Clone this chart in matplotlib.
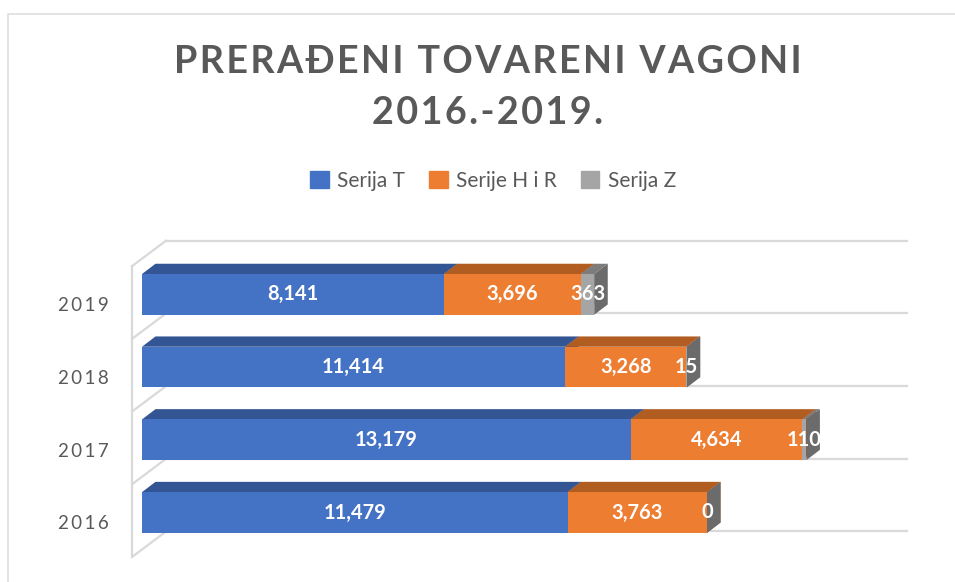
import matplotlib
matplotlib.use('Agg')
import matplotlib.pyplot as plt
import matplotlib.patches as patches
from matplotlib.lines import Line2D
import numpy as np

plt.rcParams['font.family'] = ['Lato', 'DejaVu Sans']

years = ['2016', '2017', '2018', '2019']
serija_t = [11479, 13179, 11414, 8141]
serije_hr = [3763, 4634, 3268, 3696]
serija_z = [0, 110, 15, 363]
series_names = ['Serija T', 'Serije H i R', 'Serija Z']
title_lines = ['PRERAĐENI TOVARENI VAGONI', '2016.-2019.']

front_colors = ['#4472C4', '#ED7D31', '#A5A5A5']
top_colors = ['#335593', '#B15D22', '#7C7C7C']
side_colors = ['#2F5597', '#A9561E', '#6B6B6B']
grid_color = '#D9D9D9'
text_color = '#595959'

W, H = 955, 582
px_per_unit = 0.03707
px_per_cat = 72.7
bar_h = 0.56
depth_x = 13.5 / px_per_unit
depth_y = 10.3 / px_per_cat
wall_x = 34 / px_per_unit
wall_y = 25.5 / px_per_cat
wall_left = -10 / px_per_unit


def spaced(s, gap='\u200a'):
    # no letter spacing in matplotlib, so narrow spaces
    return gap.join(s)


fig = plt.figure(figsize=(W / 100, H / 100), dpi=100)
ax = fig.add_axes([142 / W, 1 - 557 / H, 765 / W, 318 / H])
ax.set_xlim(0, 765 / px_per_unit)
ax.set_ylim(-44.5 / px_per_cat, 273.5 / px_per_cat)
ax.patch.set_visible(False)
for s in ax.spines.values():
    s.set_visible(False)
ax.set_xticks([])
y = np.arange(len(years))
ax.set_yticks(y - 0.135, labels=[spaced(v, '\u2009') for v in years])
ax.tick_params(axis='y', length=0, pad=24, labelsize=13.5, labelcolor=text_color)

# walls
floor = y - 0.612
xmax = ax.get_xlim()[1]
for f in floor:
    ax.plot([wall_left, wall_left + wall_x], [f, f + wall_y], color=grid_color, lw=1.6,
            clip_on=False, zorder=1, solid_capstyle='round')
    ax.plot([wall_left + wall_x, xmax], [f + wall_y, f + wall_y], color=grid_color, lw=1.6,
            clip_on=False, zorder=1)
top = floor[-1] + 1
ax.plot([wall_left, wall_left], [floor[0], top], color=grid_color, lw=1.6, clip_on=False, zorder=1)
ax.plot([wall_left, wall_left + wall_x], [top, top + wall_y], color=grid_color, lw=1.6,
        clip_on=False, zorder=1)
ax.plot([wall_left + wall_x, xmax], [top + wall_y, top + wall_y], color=grid_color, lw=1.6,
        clip_on=False, zorder=1)

# bars
left = np.zeros(len(years))
for vals, name, fc, tc, sc in zip([serija_t, serije_hr, serija_z], series_names,
                                  front_colors, top_colors, side_colors):
    vals = np.array(vals)
    for yi, l, v in zip(y, left, vals):
        yt = yi + bar_h / 2
        yb = yi - bar_h / 2
        ax.add_patch(patches.Polygon([(l, yt), (l + v, yt), (l + v + depth_x, yt + depth_y),
                                      (l + depth_x, yt + depth_y)],
                                     facecolor=tc, edgecolor='none', zorder=3))
        ax.add_patch(patches.Polygon([(l + v, yb), (l + v + depth_x, yb + depth_y),
                                      (l + v + depth_x, yt + depth_y), (l + v, yt)],
                                     facecolor=sc, edgecolor='none', zorder=3))
    left = left + vals

left = np.zeros(len(years))
for vals, name, fc in zip([serija_t, serije_hr, serija_z], series_names, front_colors):
    bars = ax.barh(y, vals, height=bar_h, left=left, color=fc, label=name, zorder=4)
    ax.bar_label(bars, labels=[f'{v:,}' for v in vals], label_type='center', color='white',
                 fontsize=14.5, fontweight='bold', zorder=6)
    left = left + np.array(vals)

handles = [patches.Patch(color=c, label=n) for c, n in zip(front_colors, series_names)]
fig.legend(handles=handles, loc='center', bbox_to_anchor=(493 / W, 1 - 181 / H), ncol=3,
           frameon=False, fontsize=15, labelcolor=text_color, handlelength=0.9,
           handleheight=0.9, handletextpad=0.4, columnspacing=1.15)

fig.text(488 / W, 1 - 62 / H, spaced(title_lines[0]), ha='center', va='center', fontsize=27.2,
         fontweight='bold', color=text_color)
fig.text(488 / W, 1 - 113 / H, spaced(title_lines[1]), ha='center', va='center', fontsize=27.2,
         fontweight='bold', color=text_color)

# chart frame
fig.add_artist(Line2D([8 / W, 8 / W, 1], [0, 1 - 14 / H, 1 - 14 / H], color='#DEDEDE', lw=1.2))

fig.savefig('out.png', dpi=100)
